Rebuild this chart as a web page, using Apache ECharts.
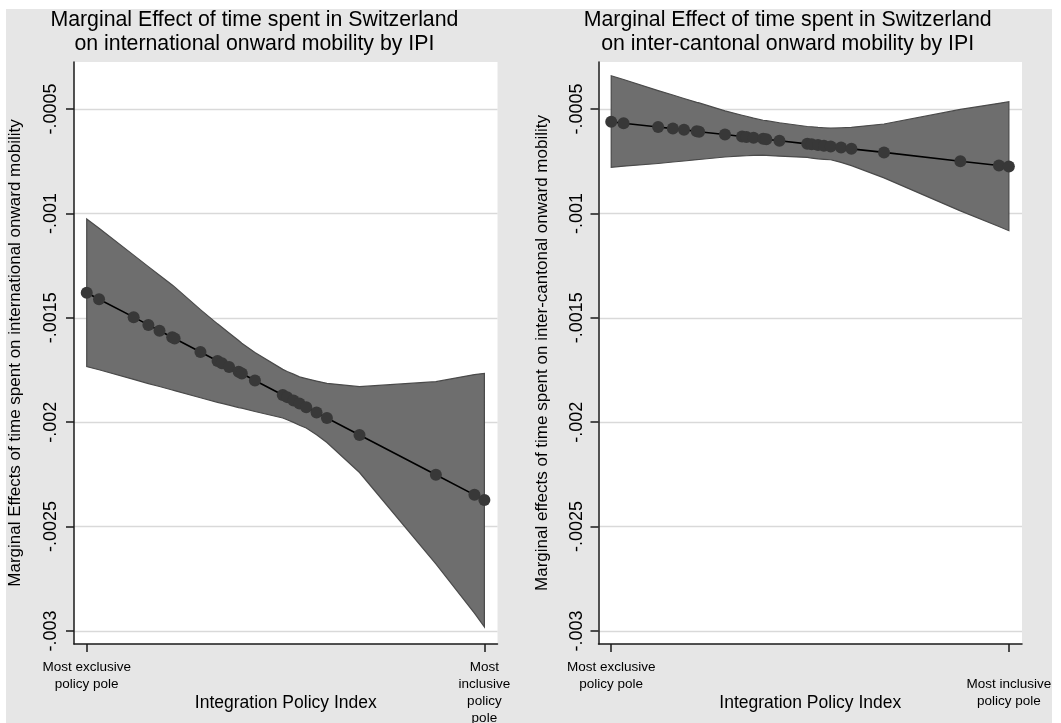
<!DOCTYPE html>
<html><head><meta charset="utf-8">
<script src="https://cdn.jsdelivr.net/npm/echarts@6/dist/echarts.min.js"></script>
<style>html,body{margin:0;padding:0;background:#fff;}#c{width:1061px;height:723px;}</style>
</head><body><div id="c"></div>
<script>
// Integration Policy Index position of each canton (0 = most exclusive, 1 = most inclusive)
const ipi = [0, 0.031, 0.118, 0.155, 0.183, 0.215, 0.221, 0.286, 0.329, 0.340, 0.358, 0.382, 0.390, 0.423, 0.493, 0.504, 0.520, 0.535, 0.552, 0.578, 0.604, 0.686, 0.878, 0.975, 1.0];

// Left panel: international onward mobility
const intlEffect = [-0.001380, -0.001411, -0.001497, -0.001534, -0.001562, -0.001593, -0.001599, -0.001664, -0.001707, -0.001718, -0.001736, -0.001759, -0.001767, -0.001800, -0.001870, -0.001880, -0.001896, -0.001911, -0.001928, -0.001954, -0.001980, -0.002061, -0.002252, -0.002348, -0.002373];
const intlUpper = [-0.001027, -0.001071, -0.001200, -0.001255, -0.001296, -0.001343, -0.001352, -0.001461, -0.001529, -0.001545, -0.001573, -0.001609, -0.001622, -0.001666, -0.001747, -0.001757, -0.001770, -0.001783, -0.001791, -0.001803, -0.001814, -0.001830, -0.001806, -0.001772, -0.001766];
const intlLower = [-0.001734, -0.001749, -0.001795, -0.001815, -0.001829, -0.001846, -0.001849, -0.001883, -0.001905, -0.001910, -0.001918, -0.001930, -0.001933, -0.001949, -0.001980, -0.001988, -0.002001, -0.002015, -0.002028, -0.002060, -0.002097, -0.002241, -0.002678, -0.002914, -0.002980];

// Right panel: inter-cantonal onward mobility
const cantEffect = [-0.000561, -0.000568, -0.000586, -0.000594, -0.000600, -0.000607, -0.000609, -0.000622, -0.000632, -0.000634, -0.000638, -0.000643, -0.000645, -0.000652, -0.000667, -0.000669, -0.000673, -0.000676, -0.000680, -0.000685, -0.000691, -0.000708, -0.000750, -0.000771, -0.000776];
const cantUpper = [-0.000341, -0.000359, -0.000412, -0.000433, -0.000450, -0.000468, -0.000471, -0.000509, -0.000530, -0.000535, -0.000544, -0.000554, -0.000556, -0.000566, -0.000584, -0.000585, -0.000588, -0.000590, -0.000592, -0.000590, -0.000588, -0.000572, -0.000502, -0.000473, -0.000465];
const cantLower = [-0.000779, -0.000774, -0.000761, -0.000754, -0.000749, -0.000743, -0.000742, -0.000730, -0.000725, -0.000724, -0.000722, -0.000721, -0.000722, -0.000726, -0.000732, -0.000735, -0.000739, -0.000741, -0.000743, -0.000756, -0.000771, -0.000830, -0.000988, -0.001063, -0.001083];

// Axis ticks
const yTicks = [-0.003, -0.0025, -0.002, -0.0015, -0.001, -0.0005];
const yTickLabels = ['-.003', '-.0025', '-.002', '-.0015', '-.001', '-.0005'];
const xTicks = [0, 1];
const xTickLabelsLeft = ['Most exclusive\npolicy pole', 'Most\ninclusive\npolicy\npole'];
const xTickLabelsRight = ['Most exclusive\npolicy pole', '\nMost inclusive\npolicy pole'];

const titles = [
  'Marginal Effect of time spent in Switzerland\non international onward mobility by IPI',
  'Marginal Effect of time spent in Switzerland\non inter-cantonal onward mobility by IPI'
];
const yNames = [
  'Marginal Effects of time spent on international onward mobility',
  'Marginal effects of time spent on inter-cantonal onward mobility'
];
const xName = 'Integration Policy Index';

const FONT = "'Liberation Sans', Arial, Helvetica, sans-serif";
const AX = '#1a1a1a';

function findLabel(ticks, labels, v) {
  for (let i = 0; i < ticks.length; i++) if (Math.abs(ticks[i] - v) < 1e-9) return labels[i];
  return '';
}

function xAxisCfg(idx, labels) {
  return {
    type: 'value', gridIndex: idx, min: -0.032, max: 1.033,
    axisLine: { show: true, onZero: false, lineStyle: { color: AX, width: 1.5 } },
    axisTick: { show: true, length: 8, customValues: xTicks, lineStyle: { color: AX, width: 1.5 } },
    axisLabel: { customValues: xTicks, margin: 15, fontSize: 13.5, lineHeight: 17, color: '#000', fontFamily: FONT,
      formatter: v => findLabel(xTicks, labels, v) },
    splitLine: { show: false },
    name: xName, nameLocation: 'middle', nameGap: 50, nameMoveOverlap: false,
    nameTextStyle: { fontSize: 17.5, color: '#000', fontFamily: FONT }
  };
}
function yAxisCfg(idx, margin, nameGap) {
  return {
    type: 'value', gridIndex: idx, min: -0.0030623, max: -0.000275,
    axisLine: { show: true, onZero: false, lineStyle: { color: AX, width: 1.5 } },
    axisTick: { show: true, length: 8, customValues: yTicks, lineStyle: { color: AX, width: 1.5 } },
    axisLabel: { customValues: yTicks, rotate: 90, margin: margin, fontSize: 18, color: '#000', fontFamily: FONT,
      formatter: v => findLabel(yTicks, yTickLabels, v) },
    splitLine: { show: true, lineStyle: { color: '#d9d9d9', width: 1.3 } },
    name: yNames[idx], nameLocation: 'middle', nameGap: nameGap, nameMoveOverlap: false,
    nameTextStyle: { fontSize: 17, color: '#000', fontFamily: FONT }
  };
}
function bandSeries(idx, upper, lower) {
  return {
    type: 'custom', xAxisIndex: idx, yAxisIndex: idx, silent: true, z: 1,
    data: ipi.map((x, i) => [x, lower[i], upper[i]]),
    encode: { x: 0, y: [1, 2] },
    renderItem: function (params, api) {
      if (params.dataIndex !== 0) return null;
      const pts = [];
      for (let i = 0; i < ipi.length; i++) pts.push(api.coord([ipi[i], upper[i]]));
      for (let i = ipi.length - 1; i >= 0; i--) pts.push(api.coord([ipi[i], lower[i]]));
      return { type: 'polygon', shape: { points: pts }, style: { fill: '#6e6e6e', stroke: '#4a4a4a', lineWidth: 1.2 } };
    }
  };
}
function lineSeries(idx, eff) {
  return {
    type: 'line', xAxisIndex: idx, yAxisIndex: idx, silent: true, z: 3,
    data: ipi.map((x, i) => [x, eff[i]]),
    symbol: 'circle', symbolSize: 12, showAllSymbol: true,
    itemStyle: { color: '#383838' },
    lineStyle: { color: '#000', width: 1.6 }
  };
}

const chart = echarts.init(document.getElementById('c'), null, { renderer: 'canvas' });
chart.setOption({
  animation: false,
  backgroundColor: '#e6e6e6',
  textStyle: { fontFamily: FONT },
  graphic: [
    { type: 'rect', z: -10, shape: { x: 0, y: 0, width: 1061, height: 9 }, style: { fill: '#fff' } },
    { type: 'rect', z: -10, shape: { x: 0, y: 0, width: 6, height: 723 }, style: { fill: '#fff' } },
    { type: 'rect', z: -10, shape: { x: 1052, y: 0, width: 9, height: 723 }, style: { fill: '#fff' } }
  ],
  title: [
    { text: titles[0], left: 254.4, top: 8, padding: 0, textAlign: 'center',
      textStyle: { fontSize: 21.3, lineHeight: 24.4, fontWeight: 'normal', color: '#000', fontFamily: FONT } },
    { text: titles[1], left: 787.7, top: 8, padding: 0, textAlign: 'center',
      textStyle: { fontSize: 21.3, lineHeight: 24.4, fontWeight: 'normal', color: '#000', fontFamily: FONT } }
  ],
  grid: [
    { left: 74, top: 62, width: 423.5, height: 582, show: true, backgroundColor: '#fff', borderWidth: 0, containLabel: false, outerBoundsMode: 'none' },
    { left: 598.5, top: 62, width: 423.5, height: 582, show: true, backgroundColor: '#fff', borderWidth: 0, containLabel: false, outerBoundsMode: 'none' }
  ],
  xAxis: [xAxisCfg(0, xTickLabelsLeft), xAxisCfg(1, xTickLabelsRight)],
  yAxis: [yAxisCfg(0, 14, 50), yAxisCfg(1, 12, 48)],
  series: [
    bandSeries(0, intlUpper, intlLower),
    lineSeries(0, intlEffect),
    bandSeries(1, cantUpper, cantLower),
    lineSeries(1, cantEffect)
  ]
});
</script></body></html>
